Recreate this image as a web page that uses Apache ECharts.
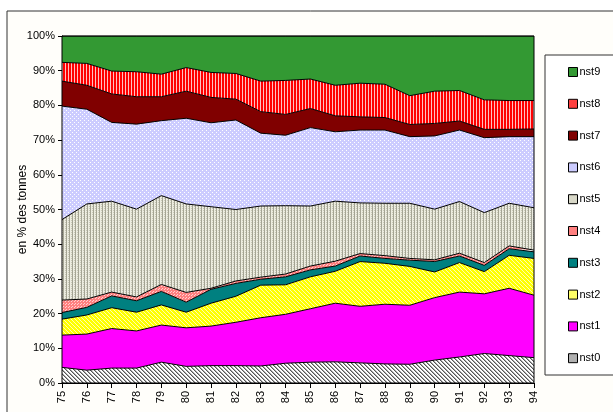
<!DOCTYPE html>
<html><head><meta charset="utf-8">
<script src="https://cdn.jsdelivr.net/npm/echarts@6/dist/echarts.min.js"></script>
<style>html,body{margin:0;padding:0;background:#fff}#c{width:613px;height:412px}</style>
</head><body><div id="c"></div>
<script>
const years = ['75','76','77','78','79','80','81','82','83','84','85','86','87','88','89','90','91','92','93','94'];
const nst0 = [4.5,3.7,4.3,4.3,6.0,4.8,5.0,5.0,4.9,5.7,6.0,6.1,5.8,5.5,5.4,6.6,7.5,8.5,7.9,7.3];
const nst1 = [9.3,10.4,11.4,10.7,10.7,11.1,11.4,12.5,13.9,14.1,15.4,16.9,16.3,17.2,17.0,18.0,18.7,17.2,19.4,18.0];
const nst2 = [4.6,5.5,6.0,5.4,5.8,4.5,6.6,7.5,9.4,8.5,9.2,9.2,12.9,11.8,11.2,7.4,8.5,6.4,9.5,10.6];
const nst3 = [1.9,2.2,3.4,3.3,3.9,2.9,4.0,3.7,1.7,2.3,2.0,1.5,1.6,1.4,1.8,3.0,1.9,1.8,1.9,1.9];
const nst4 = [3.6,2.4,1.1,1.1,2.0,2.8,0.3,0.7,0.6,0.8,1.1,1.4,0.7,0.8,0.5,0.5,0.8,0.8,0.8,0.5];
const nst5 = [23.2,27.4,26.2,25.3,25.6,25.5,23.5,20.6,20.5,19.7,17.3,17.3,14.6,15.1,15.9,14.6,14.9,14.4,12.3,12.2];
const nst6 = [32.7,27.3,22.7,24.5,21.6,24.7,24.2,25.8,21.0,20.3,22.6,20.0,21.0,21.1,19.2,21.1,20.6,21.6,19.2,20.5];
const nst7 = [7.2,6.9,8.2,7.9,6.9,7.8,7.3,6.0,6.2,6.0,5.5,4.6,3.8,3.6,3.5,3.6,2.6,2.4,2.1,2.2];
const nst8 = [5.4,6.3,6.6,7.2,6.5,6.8,7.2,7.4,8.8,9.8,8.5,8.8,9.7,9.6,8.3,9.3,8.8,8.5,8.3,8.2];
const nst9 = [7.6,7.9,10.1,10.3,11.0,9.1,10.5,10.8,13.0,12.8,12.4,14.2,13.6,13.9,17.2,15.9,15.7,18.4,18.6,18.6];
const seriesNames = ['nst0','nst1','nst2','nst3','nst4','nst5','nst6','nst7','nst8','nst9'];
const seriesData = [nst0,nst1,nst2,nst3,nst4,nst5,nst6,nst7,nst8,nst9];

function pat(w, h, bg, draw) {
  const c = document.createElement('canvas');
  c.width = w; c.height = h;
  const g = c.getContext('2d');
  g.fillStyle = bg; g.fillRect(0, 0, w, h);
  if (draw) draw(g);
  return {image: c, repeat: 'repeat'};
}
function px(g, col, pts) { g.fillStyle = col; pts.forEach(p => g.fillRect(p[0], p[1], 1, 1)); }

const fills = [
  pat(4, 4, '#ffffff', g => { px(g, '#555555', [[0,0],[1,1],[2,2],[3,3]]); px(g, '#aaaaaa', [[1,0],[2,1],[3,2],[0,3]]); }),
  '#ff00ff',
  pat(4, 4, '#ffff00', g => px(g, '#ffffb0', [[0,0],[1,1],[2,2],[3,3]])),
  '#008080',
  pat(3, 3, '#ff8080', g => px(g, '#ffd0d0', [[0,0],[2,1]])),
  pat(3, 2, '#ecece0', g => { px(g, '#a4a494', [[0,0],[0,1]]); px(g, '#c8c8b8', [[2,0]]); }),
  pat(4, 4, '#ccccff', g => px(g, '#ffffff', [[0,0],[2,2]])),
  '#800000',
  pat(3, 1, '#ff0000', g => px(g, '#ffc0c0', [[2,0]])),
  '#339933'
];
const legendColors = ['#b0b0b0','#ff00ff','#ffff66','#008080','#ff8080','#d8d8c8','#ccccff','#800000','#ff4040','#339933'];

const chart = echarts.init(document.getElementById('c'), null, {renderer: 'canvas'});
const series = seriesNames.map((n, i) => ({
  name: n, type: 'line', stack: 'total', data: seriesData[i],
  symbol: 'none', smooth: false,
  lineStyle: {color: '#000', width: 1},
  itemStyle: {color: legendColors[i]},
  areaStyle: {color: fills[i], opacity: 1},
  emphasis: {disabled: true}
}));

chart.setOption({
  animation: false,
  backgroundColor: '#ffffff',
  textStyle: {fontFamily: 'Liberation Sans, Arial, sans-serif'},
  graphic: [
    {type: 'rect', shape: {x: 7, y: 11, width: 700, height: 500}, style: {fill: '#fffefa', stroke: '#333', lineWidth: 1}, z: -10},
    {type: 'rect', shape: {x: 545, y: 55, width: 120, height: 320}, style: {fill: '#ffffff', stroke: '#333', lineWidth: 1}, z: 1},
    {type: 'rect', shape: {x: 62, y: 36, width: 472, height: 347}, style: {fill: 'none', stroke: '#000', lineWidth: 1}, z: 100}
  ],
  grid: {left: 62, right: 79, top: 36, bottom: 29, containLabel: false},
  legend: {
    orient: 'vertical', left: 563, top: 61,
    data: seriesNames.slice().reverse(),
    icon: 'rect', itemWidth: 9, itemHeight: 9, itemGap: 19.8,
    itemStyle: {borderColor: '#000', borderWidth: 1},
    textStyle: {fontSize: 11, color: '#000', lineHeight: 12, padding: [0,0,0,-3]},
    selectedMode: false
  },
  xAxis: {
    type: 'category', data: years, boundaryGap: false,
    axisLine: {lineStyle: {color: '#000'}},
    axisTick: {show: true, length: 5, lineStyle: {color: '#000'}},
    axisLabel: {rotate: 90, fontSize: 11, color: '#000', margin: 8, interval: 0}
  },
  yAxis: {
    type: 'value', min: 0, max: 100, interval: 10,
    name: 'en % des tonnes', nameLocation: 'middle', nameGap: 33, nameMoveOverlap: false,
    nameTextStyle: {fontSize: 12, color: '#000'},
    axisLine: {show: true, lineStyle: {color: '#000'}},
    axisTick: {show: true, length: 4, lineStyle: {color: '#000'}},
    axisLabel: {formatter: '{value}%', fontSize: 11, color: '#000', margin: 7},
    splitLine: {show: false}
  },
  series: series
});
</script></body></html>
